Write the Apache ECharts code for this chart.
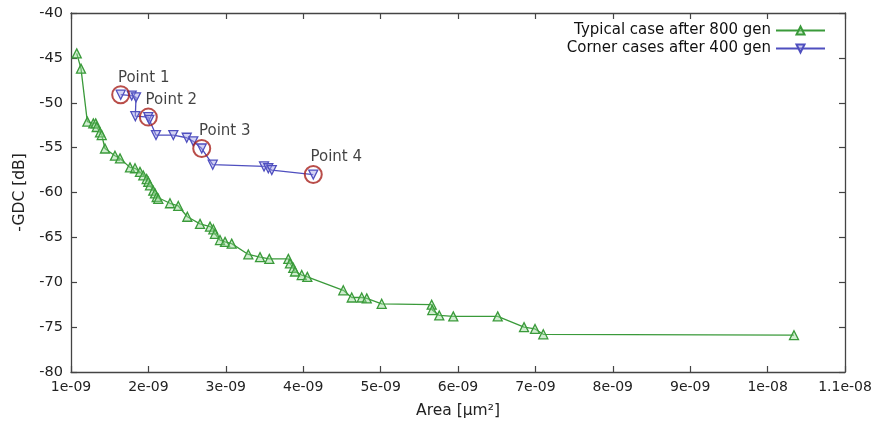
<!DOCTYPE html>
<html>
<head>
<meta charset="utf-8">
<script src="https://cdn.jsdelivr.net/npm/echarts@6/dist/echarts.min.js"></script>
<style>
  html, body { margin: 0; padding: 0; background: #fff; }
  #chart { width: 882px; height: 429px; }
</style>
</head>
<body>
<div id="chart"></div>
<script>
// Pareto fronts: area (µm²) versus -GDC (dB)
const typicalArea = [
  1.074e-9, 1.129e-9, 1.211e-9, 1.288e-9, 1.319e-9, 1.332e-9, 1.375e-9, 1.397e-9,
  1.439e-9, 1.568e-9, 1.633e-9, 1.762e-9, 1.827e-9, 1.891e-9, 1.934e-9, 1.978e-9,
  1.999e-9, 2.021e-9, 2.063e-9, 2.085e-9, 2.107e-9, 2.128e-9, 2.279e-9, 2.386e-9,
  2.503e-9, 2.667e-9, 2.796e-9, 2.839e-9, 2.860e-9, 2.925e-9, 2.990e-9, 3.076e-9,
  3.291e-9, 3.442e-9, 3.562e-9, 3.808e-9, 3.829e-9, 3.872e-9, 3.894e-9, 3.981e-9,
  4.053e-9, 4.518e-9, 4.627e-9, 4.756e-9, 4.821e-9, 5.014e-9, 5.660e-9, 5.668e-9,
  5.758e-9, 5.939e-9, 6.513e-9, 6.853e-9, 6.995e-9, 7.102e-9, 1.0341e-8
];
const typicalGdc = [
  -44.5, -46.2, -52.1, -52.3, -52.3, -52.7, -53.3, -53.6,
  -55.1, -55.9, -56.2, -57.2, -57.3, -57.7, -58.1, -58.5,
  -58.8, -59.2, -59.8, -60.1, -60.5, -60.7, -61.2, -61.5,
  -62.7, -63.5, -63.8, -64.1, -64.6, -65.3, -65.5, -65.7,
  -66.9, -67.2, -67.4, -67.4, -67.9, -68.4, -68.8, -69.2,
  -69.4, -70.9, -71.7, -71.7, -71.8, -72.4, -72.5, -73.1,
  -73.7, -73.8, -73.8, -75.0, -75.2, -75.8, -75.9
];

const cornerArea = [
  1.642e-9, 1.784e-9, 1.840e-9, 1.831e-9, 1.999e-9, 2.012e-9, 2.098e-9, 2.322e-9,
  2.495e-9, 2.580e-9, 2.689e-9, 2.831e-9, 3.494e-9, 3.549e-9, 3.594e-9, 4.130e-9
];
const cornerGdc = [
  -49.1, -49.2, -49.4, -51.5, -51.6, -51.9, -53.6, -53.6,
  -53.9, -54.3, -55.1, -56.9, -57.1, -57.3, -57.5, -58.0
];

// Highlighted designs on the corner-case front
const pointLabels = ['Point 1', 'Point 2', 'Point 3', 'Point 4'];
const pointArea = [1.642e-9, 1.999e-9, 2.689e-9, 4.130e-9];
const pointGdc = [-49.1, -51.6, -55.1, -58.0];

const seriesNames = ['Typical case after 800 gen', 'Corner cases after 400 gen'];

const xMin = 1e-9, xMax = 1.1e-8, xStep = 1e-9;
const yMin = -80, yMax = -40, yStep = 5;

const zip = (a, b) => a.map((v, i) => [v, b[i]]);

// gnuplot-style exponent labels: 1e-09 ... 1e-08, 1.1e-08
function sciLabel(v) {
  const m = Math.round(v / 1e-9 * 10) / 10;
  if (m >= 10) return (Math.round(m) / 10) + 'e-08';
  return m + 'e-09';
}

const FONT = 'DejaVu Sans';
const AXIS_COLOR = '#444';
const GREEN = '#3a9a3a';
const BLUE = '#4f4fbf';

const frameAxis = {
  axisLine: { show: true, onZero: false, lineStyle: { color: AXIS_COLOR, width: 1.3 } },
  axisTick: { show: true, inside: true, length: 6, lineStyle: { color: AXIS_COLOR, width: 1.2 } },
  splitLine: { show: false }
};

const chart = echarts.init(document.getElementById('chart'), null, { renderer: 'canvas' });

chart.setOption({
  animation: false,
  backgroundColor: '#fff',
  textStyle: { fontFamily: FONT },
  grid: { left: 71, right: 37, top: 13, bottom: 57, containLabel: false },
  legend: {
    orient: 'vertical',
    right: 51,
    top: 18,
    align: 'right',
    itemWidth: 49,
    itemHeight: 10,
    itemGap: 3,
    textStyle: { fontFamily: FONT, fontSize: 15, color: '#111' },
    data: seriesNames
  },
  xAxis: [
    Object.assign({
      type: 'value', min: xMin, max: xMax, interval: xStep,
      name: 'Area [µm²]', nameLocation: 'middle', nameGap: 31,
      nameTextStyle: { fontFamily: FONT, fontSize: 15.5, color: '#222' },
      axisLabel: { formatter: sciLabel, fontFamily: FONT, fontSize: 14, color: '#222', margin: 8 }
    }, frameAxis),
    Object.assign({
      type: 'value', min: xMin, max: xMax, interval: xStep, position: 'top',
      axisLabel: { show: false }
    }, frameAxis)
  ],
  yAxis: [
    Object.assign({
      type: 'value', min: yMin, max: yMax, interval: yStep,
      name: '-GDC [dB]', nameLocation: 'middle', nameGap: 41, nameRotate: 90,
      nameTextStyle: { fontFamily: FONT, fontSize: 15.5, color: '#222' },
      axisLabel: { fontFamily: FONT, fontSize: 14.5, color: '#222', margin: 8 }
    }, frameAxis),
    Object.assign({
      type: 'value', min: yMin, max: yMax, interval: yStep, position: 'right',
      axisLabel: { show: false }
    }, frameAxis)
  ],
  series: [
    {
      name: seriesNames[0],
      type: 'line',
      data: zip(typicalArea, typicalGdc),
      symbol: 'triangle',
      symbolSize: 9,
      showAllSymbol: true,
      lineStyle: { color: GREEN, width: 1.3 },
      itemStyle: { color: 'rgba(150,215,150,0.45)', borderColor: GREEN, borderWidth: 1.3 },
      z: 3
    },
    {
      name: seriesNames[1],
      type: 'line',
      data: zip(cornerArea, cornerGdc),
      symbol: 'triangle',
      symbolRotate: 180,
      symbolSize: 9,
      showAllSymbol: true,
      lineStyle: { color: BLUE, width: 1.3 },
      itemStyle: { color: 'rgba(160,160,230,0.45)', borderColor: BLUE, borderWidth: 1.3 },
      z: 3
    },
    {
      name: 'highlight',
      type: 'scatter',
      data: pointArea.map((x, i) => ({ value: [x, pointGdc[i]], name: pointLabels[i] })),
      symbol: 'circle',
      symbolSize: 17,
      itemStyle: { color: 'rgba(0,0,0,0)', borderColor: '#a8201c', borderWidth: 2 },
      label: {
        show: true,
        position: 'top',
        distance: 4,
        offset: [23, 4],
        formatter: p => p.name,
        fontFamily: FONT,
        fontSize: 15,
        color: '#111'
      },
      z: 4
    }
  ]
});
</script>
</body>
</html>
